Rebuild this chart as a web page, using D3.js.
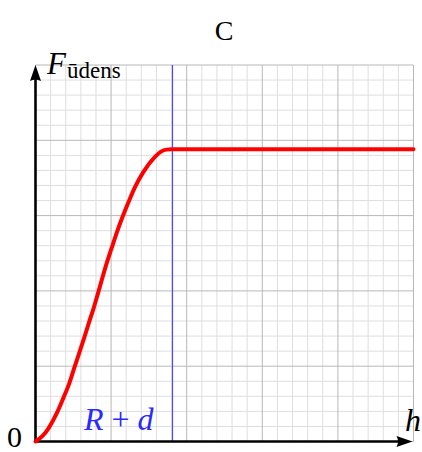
<!DOCTYPE html>
<html>
<head>
<meta charset="utf-8">
<script src="https://cdn.jsdelivr.net/npm/d3@7"></script>
<style>
  html, body { margin: 0; padding: 0; background: #fff; }
  svg { display: block; }
</style>
</head>
<body>
<script>
// Force versus height: rises smoothly, then stays constant past h = R + d
const heights = [0, 0.45, 0.85, 1.40, 1.84, 2.24, 2.57, 2.90, 3.23, 3.54, 3.87, 4.15, 4.71, 5.04, 5.37, 5.74, 6.14, 6.58, 7.13, 7.90, 8.30, 8.65, 9.0, 25];
const forces  = [0, 0.35, 0.86, 1.86, 2.88, 3.88, 4.90, 5.90, 6.91, 7.91, 8.93, 9.90, 11.84, 12.85, 13.85, 14.87, 15.87, 16.89, 17.89, 18.90, 19.25, 19.38, 19.4, 19.4];
const markerH = [9];               // position of R + d
const domainH = [0, 25];
const domainF = [0, 25];
const minorStep = 1, majorStep = 5;

const SERIF = "Liberation Serif";

const W = 422, H = 452;
const svg = d3.select("body").append("svg").attr("width", W).attr("height", H);

const x = d3.scaleLinear().domain(domainH).range([35.5, 413.5]);
const y = d3.scaleLinear().domain(domainF).range([441.5, 65]);

// grid
const minorX = d3.range(domainH[0], domainH[1] + 0.001, minorStep).filter(v => v % majorStep !== 0);
const minorY = d3.range(domainF[0], domainF[1] + 0.001, minorStep).filter(v => v % majorStep !== 0);
const majorX = d3.range(domainH[0], domainH[1] + 0.001, majorStep);
const majorY = d3.range(domainF[0], domainF[1] + 0.001, majorStep);

const grid = svg.append("g");
grid.selectAll(".mvx").data(minorX).join("line")
  .attr("x1", d => x(d)).attr("x2", d => x(d)).attr("y1", y(domainF[0])).attr("y2", y(domainF[1]))
  .attr("stroke", "#dedede").attr("stroke-width", 1);
grid.selectAll(".mhy").data(minorY).join("line")
  .attr("y1", d => y(d)).attr("y2", d => y(d)).attr("x1", x(domainH[0])).attr("x2", x(domainH[1]))
  .attr("stroke", "#dedede").attr("stroke-width", 1);
grid.selectAll(".Mvx").data(majorX).join("line")
  .attr("x1", d => x(d)).attr("x2", d => x(d)).attr("y1", y(domainF[0])).attr("y2", y(domainF[1]))
  .attr("stroke", "#b8b8b8").attr("stroke-width", 1);
grid.selectAll(".Mhy").data(majorY).join("line")
  .attr("y1", d => y(d)).attr("y2", d => y(d)).attr("x1", x(domainH[0])).attr("x2", x(domainH[1]))
  .attr("stroke", "#b8b8b8").attr("stroke-width", 1);

// R + d marker line
svg.selectAll(".marker").data(markerH).join("line")
  .attr("x1", d => Math.round(x(d)) + 0.5).attr("x2", d => Math.round(x(d)) + 0.5)
  .attr("y1", y(domainF[0])).attr("y2", y(domainF[1]))
  .attr("stroke", "#4a4aff").attr("stroke-width", 1.2);

// axes with arrowheads
const ax = svg.append("g").attr("stroke", "#000").attr("fill", "#000");
const x0 = x(0), y0 = y(0), xEnd = x(domainH[1]) - 1, yEnd = y(domainF[1]);
ax.append("line").attr("x1", x0).attr("y1", y0).attr("x2", xEnd - 10).attr("y2", y0).attr("stroke-width", 2.6);
ax.append("line").attr("x1", x0).attr("y1", y0 + 1.3).attr("x2", x0).attr("y2", yEnd + 10).attr("stroke-width", 2.6);
ax.append("path").attr("stroke", "none")
  .attr("d", `M${xEnd},${y0} L${xEnd - 16},${y0 - 5.5} Q${xEnd - 13},${y0} ${xEnd - 16},${y0 + 5.5} Z`);
ax.append("path").attr("stroke", "none")
  .attr("d", `M${x0},${yEnd} L${x0 - 5.5},${yEnd + 16} Q${x0},${yEnd + 13} ${x0 + 5.5},${yEnd + 16} Z`);

// force curve
const pts = heights.map((h, i) => [h, forces[i]]);
svg.append("path").datum(pts)
  .attr("d", d3.line().x(d => x(d[0])).y(d => y(d[1])).curve(d3.curveMonotoneX))
  .attr("fill", "none").attr("stroke", "#ff0000").attr("stroke-width", 4)
  .attr("stroke-linejoin", "round").attr("stroke-linecap", "round");

// labels
svg.append("text").attr("x", 224).attr("y", 39.5).attr("text-anchor", "middle")
  .style("font-family", SERIF).style("font-size", "28px").text("C");

const fl = svg.append("text").attr("x", 47).attr("y", 73.5)
  .style("font-family", SERIF).style("font-size", "31px");
fl.append("tspan").style("font-style", "italic").text("F");
fl.append("tspan").style("font-size", "23px").attr("dy", 4.5).attr("dx", 1).text("ūdens");

svg.append("text").attr("x", 7).attr("y", 447)
  .style("font-family", SERIF).style("font-size", "30px").text("0");

svg.append("text").attr("x", 405).attr("y", 431)
  .style("font-family", SERIF).style("font-size", "32px")
  .style("font-style", "italic").text("h");

const rd = svg.append("text").attr("x", 84).attr("y", 430)
  .style("font-family", SERIF).style("font-size", "32px").attr("fill", "#2a2aff");
rd.append("tspan").style("font-style", "italic").text("R");
rd.append("tspan").attr("dx", 8).text("+");
rd.append("tspan").attr("dx", 8).style("font-style", "italic").text("d");
</script>
</body>
</html>
